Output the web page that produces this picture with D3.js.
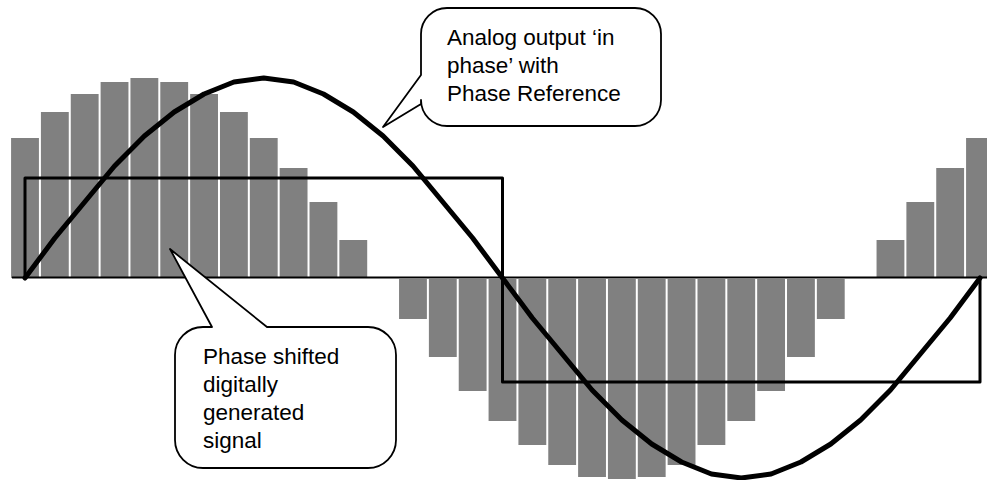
<!DOCTYPE html>
<html>
<head>
<meta charset="utf-8">
<script src="https://cdn.jsdelivr.net/npm/d3@7"></script>
<style>
  html, body { margin: 0; padding: 0; background: #fff; }
  svg { display: block; }
  text { font-family: "Liberation Sans", Arial, sans-serif; font-size: 22.5px; fill: #000; }
</style>
</head>
<body>
<svg id="chart" width="987" height="480"></svg>
<script>
// ---- Data ----
// Step index of each digital sample (33 steps across one period of the analog output)
const steps = [0,1,2,3,4,5,6,7,8,9,10,11,12,13,14,15,16,17,18,19,20,21,22,23,24,25,26,27,28,29,30,31,32];
// Phase-shifted digitally generated signal (bar heights, % of full scale)
const digitalValues = [70,83,92,98,100,98,92,83,70,55,38,19,0,-20,-39,-56,-71,-83,-93,-99,-100,-99,-93,-83,-71,-56,-39,-20,0,19,38,55,70];
// Analog output 'in phase' with phase reference (% of full scale), sampled at each step
const analogValues = [0,20,38,56,71,83,92,98,100,98,92,83,71,56,38,20,0,-20,-38,-56,-71,-83,-92,-98,-100,-98,-92,-83,-71,-56,-38,-20,0];
// Phase reference square wave: [step, level]
const refSteps  = [0, 0, 16, 16, 32, 32];
const refLevels = [0, 50, 50, -52, -52, 0];
// Callout texts
const analogLabel  = ["Analog output \u2018in", "phase\u2019 with", "Phase Reference"];
const digitalLabel = ["Phase shifted", "digitally", "generated", "signal"];

// ---- Drawing ----
const svg = d3.select("#chart");
const x = d3.scaleLinear().domain([0, 32]).range([25, 980]);
const y = d3.scaleLinear().domain([-100, 100]).range([478, 78]);
const pitch = x(1) - x(0);
const barW = pitch - 2;

// bars
svg.append("g").selectAll("rect")
  .data(steps.map((s, i) => ({ s, v: digitalValues[i] })))
  .join("rect")
  .attr("x", d => x(d.s) - barW / 2)
  .attr("width", barW)
  .attr("y", d => d.v >= 0 ? y(d.v) : y(0) + 1)
  .attr("height", d => Math.abs(y(d.v) - y(0)))
  .attr("fill", "#808080");

// baseline
svg.append("line")
  .attr("x1", 12).attr("x2", 987)
  .attr("y1", y(0) - 0.5).attr("y2", y(0) - 0.5)
  .attr("stroke", "#000").attr("stroke-width", 2);

// phase reference square wave
svg.append("path")
  .datum(refSteps.map((s, i) => [s, refLevels[i]]))
  .attr("d", d3.line().x(d => x(d[0])).y(d => y(d[1])))
  .attr("fill", "none").attr("stroke", "#000").attr("stroke-width", 3)
  .attr("stroke-linejoin", "round");

// analog output curve
svg.append("path")
  .datum(steps.map((s, i) => [s, analogValues[i]]))
  .attr("d", d3.line().x(d => x(d[0])).y(d => y(d[1])))
  .attr("fill", "none").attr("stroke", "#000").attr("stroke-width", 5)
  .attr("stroke-linejoin", "round").attr("stroke-linecap", "round");

// callouts
function calloutLeftTail(x0, y0, x1, y1, r, tb, tt, tip) {
  const p = d3.path();
  p.moveTo(x0 + r, y0);
  p.lineTo(x1 - r, y0);
  p.arcTo(x1, y0, x1, y0 + r, r);
  p.lineTo(x1, y1 - r);
  p.arcTo(x1, y1, x1 - r, y1, r);
  p.lineTo(x0 + r, y1);
  p.arcTo(x0, y1, x0, y1 - r, r);
  p.lineTo(x0, tb);
  p.lineTo(tip[0], tip[1]);
  p.lineTo(x0, tt);
  p.lineTo(x0, y0 + r);
  p.arcTo(x0, y0, x0 + r, y0, r);
  p.closePath();
  return p.toString();
}
function calloutTopTail(x0, y0, x1, y1, r, tl, tr, tip) {
  const p = d3.path();
  p.moveTo(x0 + r, y0);
  p.lineTo(tl, y0);
  p.lineTo(tip[0], tip[1]);
  p.lineTo(tr, y0);
  p.lineTo(x1 - r, y0);
  p.arcTo(x1, y0, x1, y0 + r, r);
  p.lineTo(x1, y1 - r);
  p.arcTo(x1, y1, x1 - r, y1, r);
  p.lineTo(x0 + r, y1);
  p.arcTo(x0, y1, x0, y1 - r, r);
  p.lineTo(x0, y0 + r);
  p.arcTo(x0, y0, x0 + r, y0, r);
  p.closePath();
  return p.toString();
}

svg.append("path")
  .attr("d", calloutLeftTail(421, 8, 661, 126, 26, 104, 75, [383, 127]))
  .attr("fill", "#fff").attr("stroke", "#000").attr("stroke-width", 1.8)
  .attr("stroke-linejoin", "round");
svg.append("text")
  .selectAll("tspan").data(analogLabel).join("tspan")
  .attr("x", 447).attr("y", (d, i) => 45 + i * 28)
  .text(d => d);

svg.append("path")
  .attr("d", calloutTopTail(175, 327, 396, 468, 28, 212, 267, [170, 249]))
  .attr("fill", "#fff").attr("stroke", "#000").attr("stroke-width", 1.8)
  .attr("stroke-linejoin", "round");
svg.append("text")
  .selectAll("tspan").data(digitalLabel).join("tspan")
  .attr("x", 203).attr("y", (d, i) => 364 + i * 28)
  .text(d => d);
</script>
</body>
</html>
